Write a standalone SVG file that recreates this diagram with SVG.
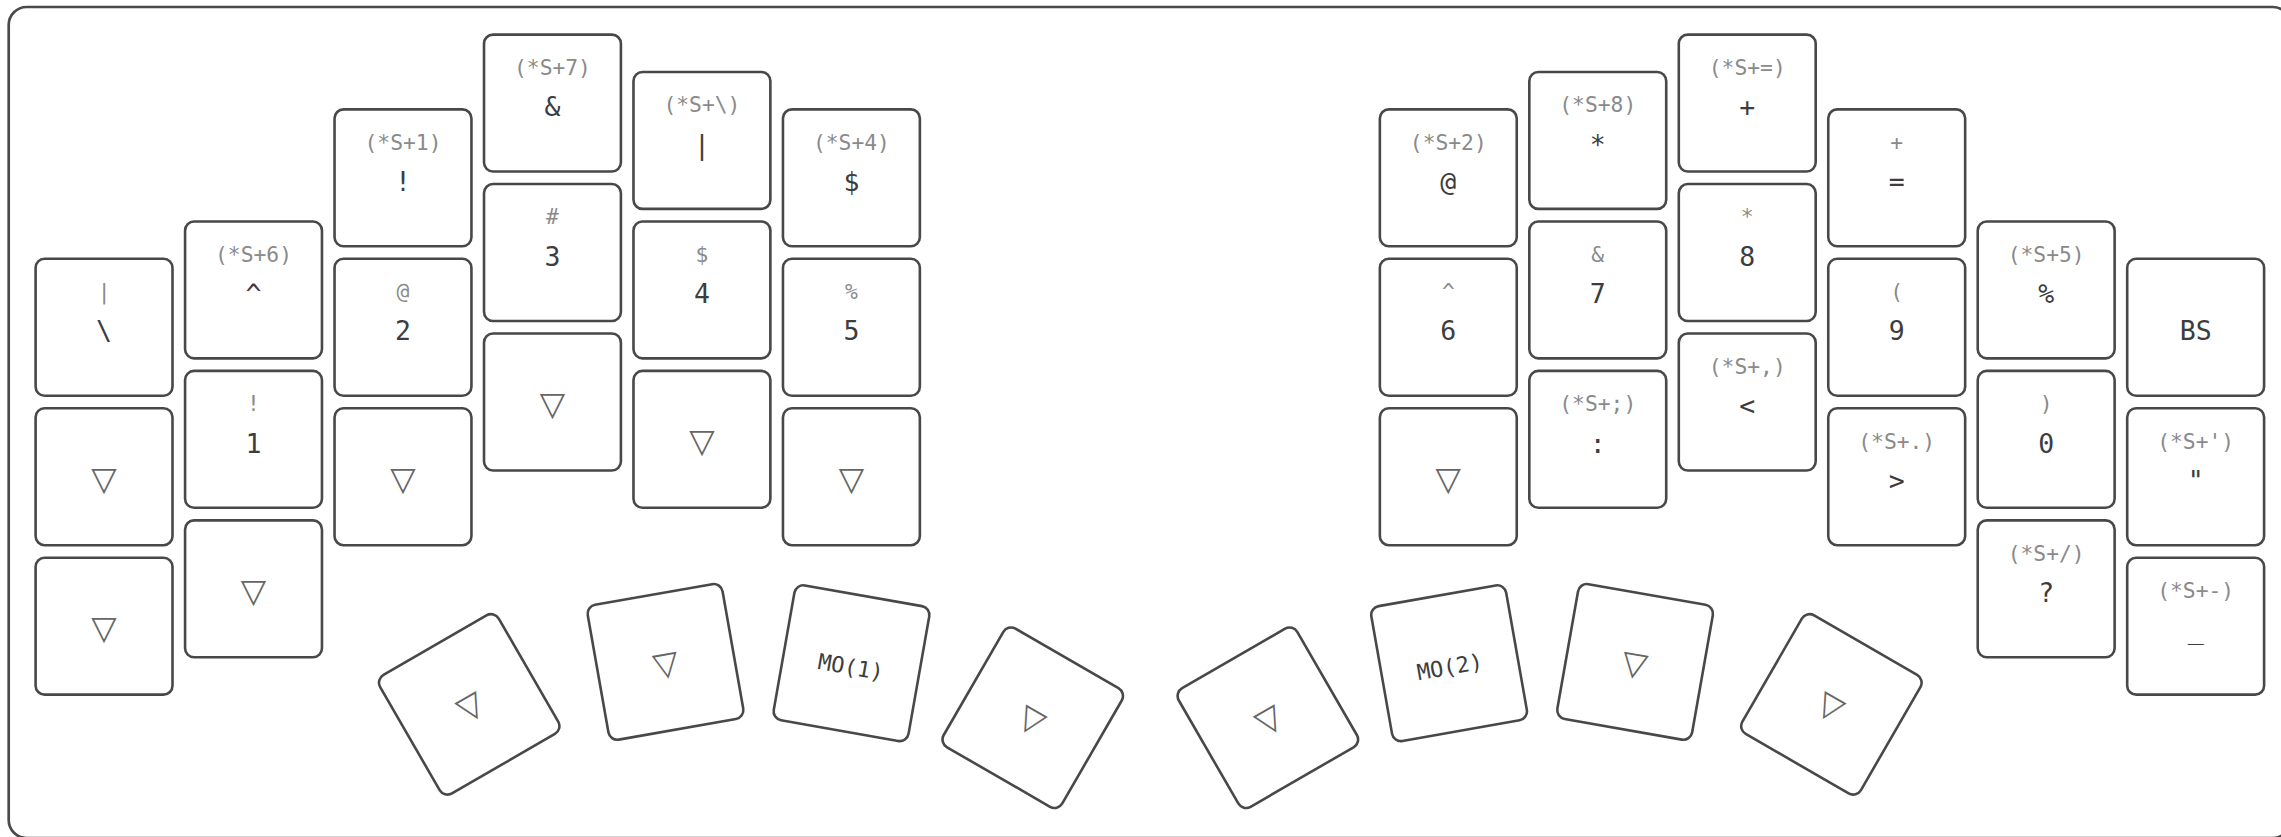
<svg xmlns="http://www.w3.org/2000/svg" xmlns:xlink="http://www.w3.org/1999/xlink" width="2281" height="837" viewBox="0 0 2281 837">
<style>
.key{fill:#fff;stroke:#484848;stroke-width:2.6}
.frame{fill:none;stroke:#4a4a4a;stroke-width:2.7}
text{font-family:"DejaVu Sans Mono","Liberation Mono",monospace;text-anchor:middle}
.m{font-size:26.5px;fill:#3d3d3d}
.s{font-size:21.3px;fill:#8a8a8a}
.mo{font-size:22px;fill:#3d3d3d}
.t{font-family:"DejaVu Sans","Noto Sans",sans-serif;font-size:33px;fill:#666}
</style>
<defs>
<rect id="kb" class="key" x="-68.45" y="-68.45" width="136.9" height="136.9" rx="9"/>
</defs>
<rect width="2281" height="837" fill="#fff"/>
<rect class="frame" x="8.7" y="7" width="2282" height="831" rx="18"/>
<g id="connectors"/>
<g id="left">
<g id="k-l0-0" transform="translate(104.05,327.26)"><use href="#kb"/><text class="s" y="-28.2">|</text><text class="m" y="13.2">\</text></g>
<g id="k-l0-1" transform="translate(104.05,476.73)"><use href="#kb"/><text class="t" y="13">▽</text></g>
<g id="k-l0-2" transform="translate(104.05,626.20)"><use href="#kb"/><text class="t" y="13">▽</text></g>
<g id="k-l1-0" transform="translate(253.52,289.89)"><use href="#kb"/><text class="s" y="-28.2">(*S+6)</text><text class="m" y="13.2">^</text></g>
<g id="k-l1-1" transform="translate(253.52,439.36)"><use href="#kb"/><text class="s" y="-28.2">!</text><text class="m" y="13.2">1</text></g>
<g id="k-l1-2" transform="translate(253.52,588.83)"><use href="#kb"/><text class="t" y="13">▽</text></g>
<g id="k-l2-0" transform="translate(402.99,177.79)"><use href="#kb"/><text class="s" y="-28.2">(*S+1)</text><text class="m" y="13.2">!</text></g>
<g id="k-l2-1" transform="translate(402.99,327.26)"><use href="#kb"/><text class="s" y="-28.2">@</text><text class="m" y="13.2">2</text></g>
<g id="k-l2-2" transform="translate(402.99,476.73)"><use href="#kb"/><text class="t" y="13">▽</text></g>
<g id="k-l3-0" transform="translate(552.46,103.05)"><use href="#kb"/><text class="s" y="-28.2">(*S+7)</text><text class="m" y="13.2">&amp;</text></g>
<g id="k-l3-1" transform="translate(552.46,252.52)"><use href="#kb"/><text class="s" y="-28.2">#</text><text class="m" y="13.2">3</text></g>
<g id="k-l3-2" transform="translate(552.46,401.99)"><use href="#kb"/><text class="t" y="13">▽</text></g>
<g id="k-l4-0" transform="translate(701.93,140.42)"><use href="#kb"/><text class="s" y="-28.2">(*S+\)</text><text class="m" y="13.2">|</text></g>
<g id="k-l4-1" transform="translate(701.93,289.89)"><use href="#kb"/><text class="s" y="-28.2">$</text><text class="m" y="13.2">4</text></g>
<g id="k-l4-2" transform="translate(701.93,439.36)"><use href="#kb"/><text class="t" y="13">▽</text></g>
<g id="k-l5-0" transform="translate(851.40,177.79)"><use href="#kb"/><text class="s" y="-28.2">(*S+4)</text><text class="m" y="13.2">$</text></g>
<g id="k-l5-1" transform="translate(851.40,327.26)"><use href="#kb"/><text class="s" y="-28.2">%</text><text class="m" y="13.2">5</text></g>
<g id="k-l5-2" transform="translate(851.40,476.73)"><use href="#kb"/><text class="t" y="13">▽</text></g>
<g id="k-lt1" transform="translate(469.2,704.4) rotate(-30)"><use href="#kb"/><text class="t" y="13">▽</text></g>
<g id="k-lt2" transform="translate(665.5,661.9) rotate(-10)"><use href="#kb"/><text class="t" y="13">▽</text></g>
<g id="k-lt3" transform="translate(851.5,663.2) rotate(10)"><use href="#kb"/><text class="mo" y="11.5">MO(1)</text></g>
<g id="k-lt4" transform="translate(1032.75,717.75) rotate(30)"><use href="#kb"/><text class="t" y="13">▽</text></g>
</g>
<g id="right">
<g id="k-r6-0" transform="translate(1448.30,177.79)"><use href="#kb"/><text class="s" y="-28.2">(*S+2)</text><text class="m" y="13.2">@</text></g>
<g id="k-r6-1" transform="translate(1448.30,327.26)"><use href="#kb"/><text class="s" y="-28.2">^</text><text class="m" y="13.2">6</text></g>
<g id="k-r6-2" transform="translate(1448.30,476.73)"><use href="#kb"/><text class="t" y="13">▽</text></g>
<g id="k-r7-0" transform="translate(1597.77,140.42)"><use href="#kb"/><text class="s" y="-28.2">(*S+8)</text><text class="m" y="13.2">*</text></g>
<g id="k-r7-1" transform="translate(1597.77,289.89)"><use href="#kb"/><text class="s" y="-28.2">&amp;</text><text class="m" y="13.2">7</text></g>
<g id="k-r7-2" transform="translate(1597.77,439.36)"><use href="#kb"/><text class="s" y="-28.2">(*S+;)</text><text class="m" y="13.2">:</text></g>
<g id="k-r8-0" transform="translate(1747.24,103.05)"><use href="#kb"/><text class="s" y="-28.2">(*S+=)</text><text class="m" y="13.2">+</text></g>
<g id="k-r8-1" transform="translate(1747.24,252.52)"><use href="#kb"/><text class="s" y="-28.2">*</text><text class="m" y="13.2">8</text></g>
<g id="k-r8-2" transform="translate(1747.24,401.99)"><use href="#kb"/><text class="s" y="-28.2">(*S+,)</text><text class="m" y="13.2">&lt;</text></g>
<g id="k-r9-0" transform="translate(1896.71,177.79)"><use href="#kb"/><text class="s" y="-28.2">+</text><text class="m" y="13.2">=</text></g>
<g id="k-r9-1" transform="translate(1896.71,327.26)"><use href="#kb"/><text class="s" y="-28.2">(</text><text class="m" y="13.2">9</text></g>
<g id="k-r9-2" transform="translate(1896.71,476.73)"><use href="#kb"/><text class="s" y="-28.2">(*S+.)</text><text class="m" y="13.2">&gt;</text></g>
<g id="k-r10-0" transform="translate(2046.18,289.89)"><use href="#kb"/><text class="s" y="-28.2">(*S+5)</text><text class="m" y="13.2">%</text></g>
<g id="k-r10-1" transform="translate(2046.18,439.36)"><use href="#kb"/><text class="s" y="-28.2">)</text><text class="m" y="13.2">0</text></g>
<g id="k-r10-2" transform="translate(2046.18,588.83)"><use href="#kb"/><text class="s" y="-28.2">(*S+/)</text><text class="m" y="13.2">?</text></g>
<g id="k-r11-0" transform="translate(2195.65,327.26)"><use href="#kb"/><text class="m" y="13.2">BS</text></g>
<g id="k-r11-1" transform="translate(2195.65,476.73)"><use href="#kb"/><text class="s" y="-28.2">(*S+')</text><text class="m" y="13.2">"</text></g>
<g id="k-r11-2" transform="translate(2195.65,626.20)"><use href="#kb"/><text class="s" y="-28.2">(*S+-)</text><text class="m" y="13.2">_</text></g>
<g id="k-rt1" transform="translate(1267.85,717.75) rotate(-30)"><use href="#kb"/><text class="t" y="13">▽</text></g>
<g id="k-rt2" transform="translate(1449.1,663.2) rotate(-10)"><use href="#kb"/><text class="mo" y="11.5">MO(2)</text></g>
<g id="k-rt3" transform="translate(1635.1,661.9) rotate(10)"><use href="#kb"/><text class="t" y="13">▽</text></g>
<g id="k-rt4" transform="translate(1831.4,704.4) rotate(30)"><use href="#kb"/><text class="t" y="13">▽</text></g>
</g>
</svg>
